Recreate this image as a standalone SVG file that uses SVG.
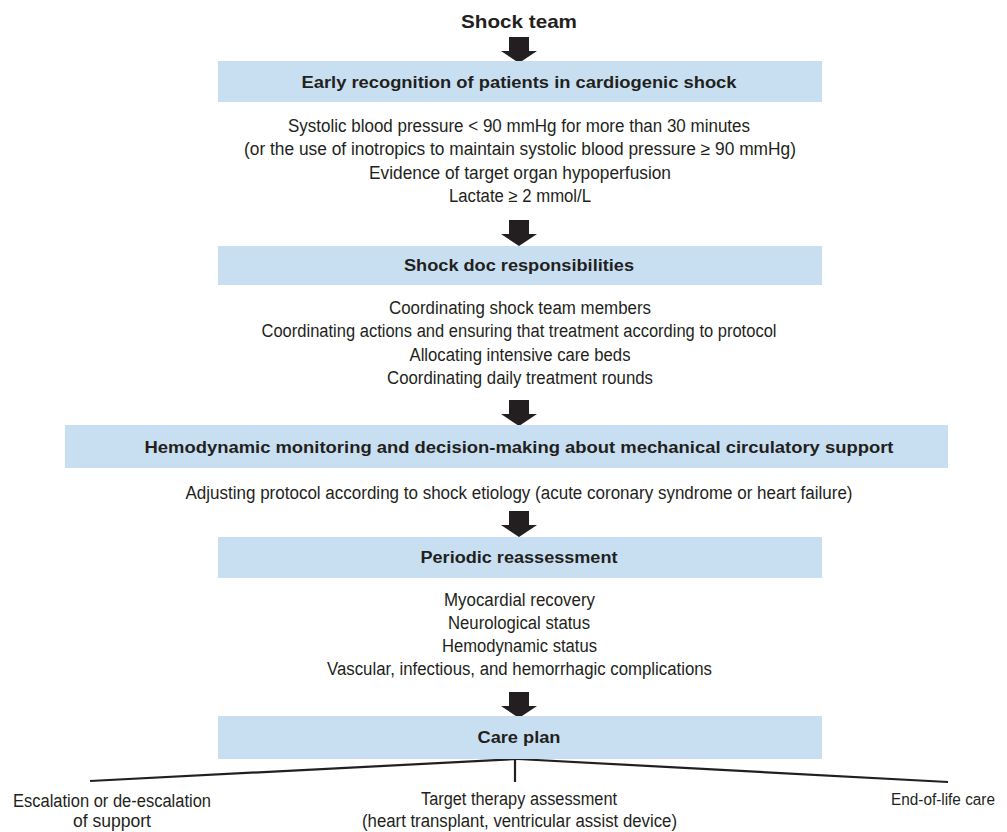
<svg xmlns="http://www.w3.org/2000/svg" width="1007" height="832" viewBox="0 0 1007 832">
  <defs>
    <style>
      .box { fill: #c8dff2; }
      .title { font-family: "Liberation Sans", Arial, sans-serif; font-weight: bold; font-size: 16px; fill: #231f20; text-anchor: middle; }
      .head { font-family: "Liberation Sans", Arial, sans-serif; font-weight: bold; font-size: 19px; fill: #231f20; text-anchor: middle; }
      .body { font-family: "Liberation Sans", Arial, sans-serif; font-size: 18px; fill: #231f20; text-anchor: middle; }
      .arrow { fill: #231f20; }
      .link { stroke: #231f20; stroke-width: 2.2; fill: none; }
    </style>
    <!-- block arrow pointing down, origin at the top of the shaft -->
    <polygon id="down" class="arrow" points="-10,0 10,0 10,14 18,14 0,26 -18,14 -10,14"/>
  </defs>
  <rect width="1007" height="832" fill="#ffffff"/>

  <g id="shock-team">
    <text class="head" x="519" y="28" textLength="116" lengthAdjust="spacingAndGlyphs">Shock team</text>
  </g>

  <g id="connectors">
    <use href="#down" x="519" y="37"/>
    <use href="#down" x="519" y="220"/>
    <use href="#down" x="519" y="400"/>
    <use href="#down" x="519" y="511"/>
    <use href="#down" x="519" y="692"/>
    <path class="link" d="M518,759 L90,781"/>
    <path class="link" d="M518,759 L948,782"/>
    <path class="link" d="M515,759 L515,782"/>
  </g>

  <g id="early-recognition">
    <rect class="box" x="218" y="61" width="604" height="41"/>
    <text class="title" x="519" y="88" textLength="435" lengthAdjust="spacingAndGlyphs">Early recognition of patients in cardiogenic shock</text>
    <text class="body" x="519" y="131.5" textLength="462" lengthAdjust="spacingAndGlyphs">Systolic blood pressure &lt; 90 mmHg for more than 30 minutes</text>
    <text class="body" x="520" y="155" textLength="552" lengthAdjust="spacingAndGlyphs">(or the use of inotropics to  maintain systolic blood pressure ≥ 90 mmHg)</text>
    <text class="body" x="520" y="178.5" textLength="302" lengthAdjust="spacingAndGlyphs">Evidence of target organ hypoperfusion</text>
    <text class="body" x="520" y="202" textLength="142" lengthAdjust="spacingAndGlyphs">Lactate ≥ 2 mmol/L</text>
  </g>

  <g id="shock-doc">
    <rect class="box" x="218" y="246" width="604" height="39"/>
    <text class="title" x="519" y="271" textLength="230" lengthAdjust="spacingAndGlyphs">Shock doc responsibilities</text>
    <text class="body" x="520" y="314" textLength="262" lengthAdjust="spacingAndGlyphs">Coordinating shock team members</text>
    <text class="body" x="519" y="337" textLength="515" lengthAdjust="spacingAndGlyphs">Coordinating actions and ensuring that treatment according to protocol</text>
    <text class="body" x="520" y="361" textLength="221" lengthAdjust="spacingAndGlyphs">Allocating intensive care beds</text>
    <text class="body" x="520" y="384" textLength="266" lengthAdjust="spacingAndGlyphs">Coordinating daily treatment rounds</text>
  </g>

  <g id="hemodynamic-monitoring">
    <rect class="box" x="65" y="425" width="883" height="43"/>
    <text class="title" x="519" y="453" textLength="749" lengthAdjust="spacingAndGlyphs">Hemodynamic monitoring and decision-making about mechanical circulatory support</text>
    <text class="body" x="519" y="499" textLength="667" lengthAdjust="spacingAndGlyphs">Adjusting protocol according to shock etiology (acute coronary syndrome or heart failure)</text>
  </g>

  <g id="periodic-reassessment">
    <rect class="box" x="218" y="537" width="604" height="41"/>
    <text class="title" x="519" y="563" textLength="197" lengthAdjust="spacingAndGlyphs">Periodic reassessment</text>
    <text class="body" x="519.5" y="605.5" textLength="151" lengthAdjust="spacingAndGlyphs">Myocardial recovery</text>
    <text class="body" x="519" y="628.5" textLength="142" lengthAdjust="spacingAndGlyphs">Neurological status</text>
    <text class="body" x="519.5" y="651.5" textLength="155" lengthAdjust="spacingAndGlyphs">Hemodynamic status</text>
    <text class="body" x="519.5" y="675" textLength="385" lengthAdjust="spacingAndGlyphs">Vascular, infectious, and hemorrhagic complications</text>
  </g>

  <g id="care-plan">
    <rect class="box" x="218" y="716" width="604" height="43"/>
    <text class="title" x="519" y="743" textLength="83" lengthAdjust="spacingAndGlyphs">Care plan</text>
  </g>

  <g id="escalation">
    <text class="body" x="112" y="807" textLength="198" lengthAdjust="spacingAndGlyphs">Escalation or de-escalation</text>
    <text class="body" x="112" y="827" textLength="78" lengthAdjust="spacingAndGlyphs">of support</text>
  </g>

  <g id="target-therapy">
    <text class="body" x="519" y="805" textLength="196" lengthAdjust="spacingAndGlyphs">Target therapy assessment</text>
    <text class="body" x="519.5" y="827" textLength="315" lengthAdjust="spacingAndGlyphs">(heart transplant, ventricular assist device)</text>
  </g>

  <g id="end-of-life">
    <text class="body" x="995" y="805" style="text-anchor:end; font-size:16px" textLength="104" lengthAdjust="spacingAndGlyphs">End-of-life care</text>
  </g>
</svg>
